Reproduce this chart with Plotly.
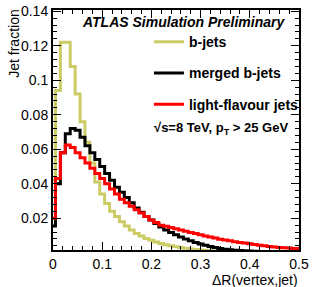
import plotly.graph_objects as go

# Bin centres of Delta R(vertex, jet), bin width 0.01
dr_centres = [round(0.01 * i, 2) for i in range(51)]

b_jets = [0.042, 0.094, 0.122, 0.122, 0.108, 0.092, 0.076, 0.064, 0.052, 0.041,
          0.034, 0.0286, 0.024, 0.021, 0.018, 0.0155, 0.0132, 0.0112, 0.0097, 0.0083,
          0.0072, 0.0062, 0.0054, 0.0047, 0.0041, 0.0035, 0.003, 0.0026, 0.0022, 0.0019,
          0.0016, 0.0014, 0.0012, 0.001, 0.0009, 0.0008, 0.0007, 0.0006, 0.0005, 0.0005,
          0.0004, 0.0004, 0.0003, 0.0003, 0.0003, 0.0002, 0.0002, 0.0002, 0.0002, 0.0001,
          0.0001]

merged_b_jets = [0.0155, 0.040, 0.058, 0.069, 0.072, 0.071, 0.067, 0.062, 0.058, 0.054,
                 0.050, 0.046, 0.042, 0.038, 0.035, 0.032, 0.029, 0.026, 0.0235, 0.021,
                 0.019, 0.017, 0.015, 0.0132, 0.0118, 0.0105, 0.0092, 0.008, 0.007, 0.006,
                 0.0051, 0.0043, 0.0036, 0.003, 0.0025, 0.0021, 0.0018, 0.0015, 0.0013, 0.0011,
                 0.001, 0.0009, 0.0008, 0.0007, 0.0006, 0.0006, 0.0005, 0.0005, 0.0004, 0.0004,
                 0.0004]

light_jets = [0.020, 0.043, 0.058, 0.0625, 0.061, 0.058, 0.055, 0.052, 0.049, 0.046,
              0.043, 0.040, 0.037, 0.034, 0.031, 0.029, 0.027, 0.025, 0.023, 0.021,
              0.019, 0.0175, 0.016, 0.0153, 0.0146, 0.0139, 0.0132, 0.0125, 0.0118, 0.0111,
              0.0104, 0.0097, 0.0091, 0.0085, 0.0079, 0.0074, 0.0069, 0.0064, 0.006, 0.0056,
              0.0052, 0.0048, 0.0044, 0.004, 0.0037, 0.0034, 0.0031, 0.0029, 0.0027, 0.0025,
              0.0024]

series_names = ["b-jets", "merged b-jets", "light-flavour jets"]
series_colors = ["rgb(204,204,102)", "black", "red"]

FONT = "Liberation Sans, Arial, Helvetica, sans-serif"

fig = go.Figure()
for name, vals, col in zip(series_names, [b_jets, merged_b_jets, light_jets], series_colors):
    fig.add_trace(go.Scatter(
        x=dr_centres, y=vals, mode="lines", name=name,
        line=dict(color=col, width=3, shape="hvh"),
        legendgroup=name,
    ))

axis_common = dict(
    showgrid=False, zeroline=False, showline=True, linecolor="black", linewidth=2,
    mirror="allticks", ticks="inside", ticklen=8, tickwidth=1, tickcolor="black",
    automargin=False,
    tickfont=dict(family=FONT, size=14, color="black"),
)

fig.update_layout(
    width=314, height=287,
    margin=dict(l=53, r=11, t=10, b=37),
    paper_bgcolor="white", plot_bgcolor="white",
    xaxis=dict(range=[0, 0.5], tick0=0, dtick=0.1,
               minor=dict(ticks="inside", ticklen=4, dtick=0.02, tick0=0, tickcolor="black"),
               **axis_common),
    yaxis=dict(range=[0.0016, 0.1407], tick0=0, dtick=0.02,
               minor=dict(ticks="inside", ticklen=4, dtick=0.004, tick0=0, tickcolor="black"),
               **axis_common),
    showlegend=True,
    legend=dict(x=0.39, y=0.9325, xanchor="left", yanchor="top",
                bgcolor="rgba(0,0,0,0)", tracegroupgap=10,
                font=dict(family=FONT, size=14, color="black", weight="bold")),
    font=dict(family=FONT, color="black"),
)

fig.add_annotation(text="<b><i>ATLAS Simulation Preliminary</i></b>",
                   xref="paper", yref="paper", x=0.95, y=0.99, xanchor="right", yanchor="top",
                   showarrow=False, font=dict(family=FONT, size=14, color="black"))
fig.add_annotation(text="<b>√s=8 TeV, p<sub>T</sub> > 25 GeV</b>",
                   xref="paper", yref="paper", x=0.965, y=0.505, xanchor="right", yanchor="middle",
                   showarrow=False, font=dict(family=FONT, size=13, color="black"))
fig.add_annotation(text="ΔR(vertex,jet)", xref="paper", yref="paper", x=1.0, y=-0.125,
                   xanchor="right", yanchor="middle", showarrow=False, borderpad=0,
                   font=dict(family=FONT, size=14, color="black"))
fig.add_annotation(text="Jet fraction", xref="paper", yref="paper", x=-0.162, y=1.01,
                   xanchor="center", yanchor="top", textangle=-90, showarrow=False,
                   font=dict(family=FONT, size=14, color="black"))

fig.write_html("out.html", config={"displayModeBar": False},
               post_script="document.body.style.margin='0';")
